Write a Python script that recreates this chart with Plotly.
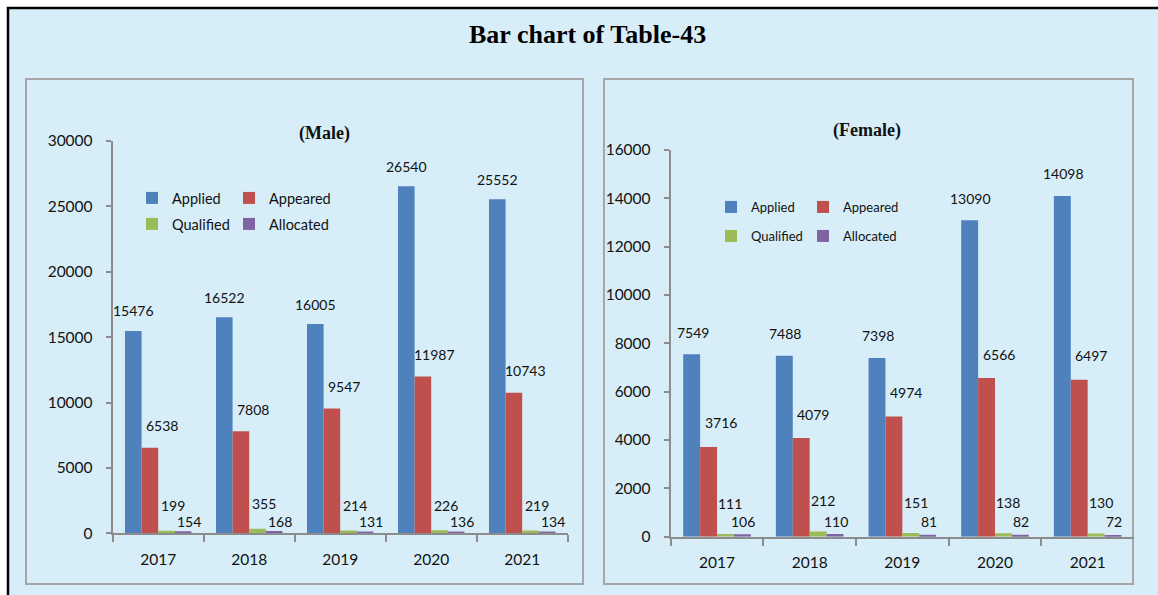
import plotly.graph_objects as go

years = ['2017', '2018', '2019', '2020', '2021']
series = ['Applied', 'Appeared', 'Qualified', 'Allocated']
colors = ['#4F81BD', '#C0504D', '#9BBB59', '#8064A2']

male_applied = [15476, 16522, 16005, 26540, 25552]
male_appeared = [6538, 7808, 9547, 11987, 10743]
male_qualified = [199, 355, 214, 226, 219]
male_allocated = [154, 168, 131, 136, 134]

female_applied = [7549, 7488, 7398, 13090, 14098]
female_appeared = [3716, 4079, 4974, 6566, 6497]
female_qualified = [111, 212, 151, 138, 130]
female_allocated = [106, 110, 81, 82, 72]

W, H = 1158, 595
BG = '#D7EEF9'
BARGAP = 0.27
FONT = 'Lato, Arial, sans-serif'
SERIF = 'Liberation Serif, Times New Roman, serif'

# panel geometry in pixels
panels = [
    dict(data=[male_applied, male_appeared, male_qualified, male_allocated],
         xdom=[112.7, 567.7], ydom=[533.3, 141.0], yrange=[0, 30000], dtick=5000,
         title='(Male)', tx=324, ty=133,
         leg_x=[132, 229], leg_y=[198, 224], leg_font=14.5,
         shifts=[(0, 20), (12, 22), (6, 25), (6, 10)]),
    dict(data=[female_applied, female_appeared, female_qualified, female_allocated],
         xdom=[670.7, 1134.0], ydom=[536.7, 150.0], yrange=[0, 16000], dtick=2000,
         title='(Female)', tx=867, ty=130,
         leg_x=[711, 803], leg_y=[207, 236], leg_font=13,
         shifts=[(1, 22), (12, 24), (5, 31), (1, 13)]),
]

fig = go.Figure()
annotations = []
layout_axes = {}

for p, panel in enumerate(panels):
    xa = 'x' if p == 0 else 'x2'
    ya = 'y' if p == 0 else 'y2'
    cat_px = (panel['xdom'][1] - panel['xdom'][0]) / len(years)
    bar_px = cat_px * (1 - BARGAP) / len(series)
    for i, name in enumerate(series):
        # one legend per entry so the 2x2 grid can be placed exactly
        lg = 'legend' if p == 0 and i == 0 else 'legend%d' % (p * 4 + i + 1)
        fig.add_trace(go.Bar(
            x=years, y=panel['data'][i], name=name,
            marker=dict(color=colors[i], line=dict(width=0)),
            xaxis=xa, yaxis=ya, legend=lg, showlegend=True,
        ))
        layout_axes[lg] = dict(
            x=panel['leg_x'][i % 2] / W, y=1 - panel['leg_y'][i // 2] / H,
            xanchor='left', yanchor='middle', orientation='h',
            bgcolor='rgba(0,0,0,0)', borderwidth=0, itemwidth=30,
            font=dict(family=FONT, size=panel['leg_font'], color='#111111'),
        )
        dx, dy = panel['shifts'][i]
        for j, v in enumerate(panel['data'][i]):
            # category index j on a category axis
            annotations.append(dict(
                x=j, y=v, xref=xa, yref=ya, text=str(v), showarrow=False,
                xanchor='center', yanchor='middle',
                xshift=(i - 1.5) * bar_px + dx, yshift=dy,
                font=dict(family=FONT, size=14, color='#111111'),
            ))
    annotations.append(dict(
        x=panel['tx'] / W, y=1 - panel['ty'] / H, xref='paper', yref='paper',
        text='<b>' + panel['title'] + '</b>', showarrow=False,
        xanchor='center', yanchor='middle',
        font=dict(family=SERIF, size=18, color='#111111'),
    ))
    sfx = '' if p == 0 else '2'
    layout_axes['xaxis' + sfx] = dict(
        domain=[panel['xdom'][0] / W, panel['xdom'][1] / W],
        anchor=ya, type='category', categoryorder='array', categoryarray=years,
        range=[-0.5, len(years) - 0.5], automargin=False,
        showline=True, linecolor='#8C8C8C', linewidth=2,
        ticks='outside', tickson='boundaries', ticklen=7, tickcolor='#8C8C8C', tickwidth=1.5,
        showgrid=False, ticklabelstandoff=11, tickangle=0,
        tickfont=dict(family=FONT, size=15.5, color='#111111'),
    )
    layout_axes['yaxis' + sfx] = dict(
        domain=[1 - panel['ydom'][0] / H, 1 - panel['ydom'][1] / H],
        anchor=xa, range=panel['yrange'], dtick=panel['dtick'], automargin=False,
        showline=True, linecolor='#8C8C8C', linewidth=2, tickformat='d',
        ticks='outside', ticklen=5, tickcolor='#8C8C8C', tickwidth=1.5,
        showgrid=False, zeroline=False, ticklabelstandoff=10,
        tickfont=dict(family=FONT, size=15.5, color='#111111'),
    )

annotations.append(dict(
    x=587 / W, y=1 - 34 / H, xref='paper', yref='paper',
    text='<b>Bar chart of Table-43</b>', showarrow=False,
    xanchor='center', yanchor='middle',
    font=dict(family=SERIF, size=26, color='#000000'),
))

shapes = [
    # outer frame
    dict(type='rect', xref='paper', yref='paper', layer='below',
         x0=8 / W, x1=1.02, y0=-0.02, y1=1 - 8 / H,
         fillcolor=BG, line=dict(color='#000000', width=2.5)),
    # panel boxes
    dict(type='rect', xref='paper', yref='paper', layer='below',
         x0=26 / W, x1=583 / W, y0=1 - 584 / H, y1=1 - 79 / H,
         line=dict(color='#A6A6A6', width=2)),
    dict(type='rect', xref='paper', yref='paper', layer='below',
         x0=604 / W, x1=1133 / W, y0=1 - 584 / H, y1=1 - 79 / H,
         line=dict(color='#A6A6A6', width=2)),
]

fig.update_layout(
    template='none',
    width=W, height=H,
    margin=dict(l=0, r=0, t=0, b=0, autoexpand=False),
    paper_bgcolor='#FFFFFF', plot_bgcolor='rgba(0,0,0,0)',
    barmode='group', bargap=BARGAP, bargroupgap=0,
    annotations=annotations, shapes=shapes,
    **layout_axes,
)

fig.write_html('out.html', config={'displayModeBar': False},
               post_script="document.body.style.margin='0';")
